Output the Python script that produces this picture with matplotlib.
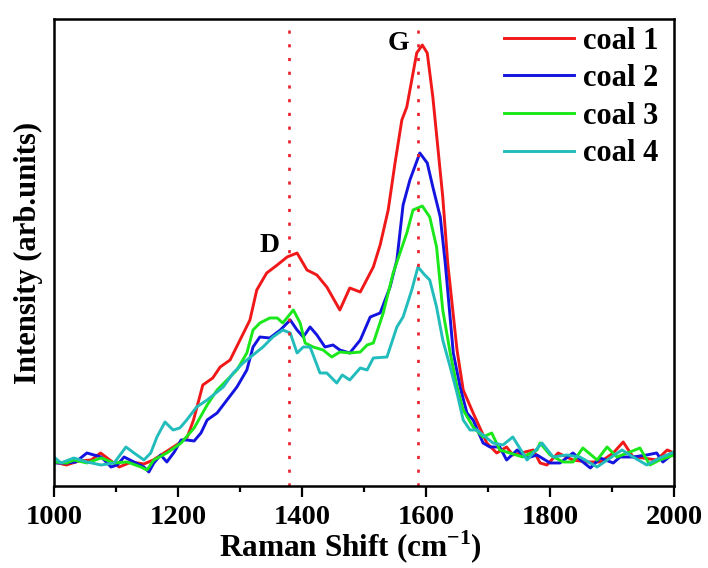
import matplotlib
matplotlib.use("Agg")
import matplotlib.pyplot as plt
from matplotlib.ticker import MultipleLocator

plt.rcParams['font.family'] = ['Liberation Serif', 'DejaVu Serif']
plt.rcParams['font.weight'] = 'bold'
plt.rcParams['mathtext.fontset'] = 'custom'
plt.rcParams['mathtext.bf'] = 'Liberation Serif:bold'
plt.rcParams['mathtext.rm'] = 'Liberation Serif:bold'

# Raman shift (cm-1) / intensity (arb. units)
w1 = [1000,1020,1040,1060,1075,1090,1105,1125,1145,1160,1180,1200,1215,1225,1240,1256,1268,1284,1300,1316,
      1327,1343,1360,1376,1392,1408,1424,1440,1461,1477,1494,1515,1526,1539,1550,1561,1569,1577,1585,1594,
      1602,1611,1619,1627,1635,1650,1660,1676,1698,1714,1730,1740,1773,1784,1795,1813,1837,1860,1881,1902,
      1918,1934,1950,1972,1989,2000]
coal1 = [24,21,25,26,33,26,19,24,22,26,34,42,49,66,101,108,119,126,146,166,
         196,213,221,229,233,216,211,199,176,198,194,219,241,276,323,366,379,406,433,441,
         433,389,339,289,223,136,96,73,43,33,39,31,36,23,21,33,26,24,24,33,
         44,29,28,26,36,33]

w2 = [1000,1020,1035,1053,1076,1092,1102,1113,1129,1145,1153,1161,1172,1182,1194,1205,1214,1226,1237,1247,
      1263,1279,1295,1311,1321,1332,1348,1365,1381,1392,1402,1413,1424,1437,1450,1461,1477,1494,1510,1526,
      1542,1553,1563,1574,1590,1602,1611,1623,1631,1644,1655,1666,1676,1692,1703,1719,1730,1747,1763,1779,
      1800,1816,1837,1853,1865,1881,1902,1913,1934,1956,1972,1982,2000]
coal2 = [23,23,24,33,29,19,21,29,24,19,14,23,31,24,34,46,46,45,53,66,
         73,86,99,116,139,149,148,156,166,156,149,159,151,139,141,136,133,146,169,173,
         199,226,281,306,333,323,299,269,223,133,99,73,66,43,39,39,26,36,28,31,
         23,23,33,24,18,28,23,29,29,31,33,24,33]

w3 = [1000,1020,1032,1053,1076,1097,1118,1140,1150,1161,1182,1205,1226,1247,1263,1279,1295,1311,1321,1332,
      1348,1360,1369,1386,1397,1405,1418,1434,1448,1461,1477,1494,1505,1515,1531,1547,1558,1569,1579,1594,
      1606,1617,1627,1639,1650,1660,1676,1692,1706,1719,1735,1756,1779,1784,1800,1821,1837,1853,1876,1892,
      1908,1929,1945,1961,1977,2000]
coal3 = [24,23,26,23,28,23,24,19,16,26,33,43,58,81,96,106,116,133,156,163,
         168,168,163,176,163,143,139,136,129,134,133,134,141,143,173,213,233,253,276,280,
         269,239,176,133,99,76,59,49,53,36,33,29,36,43,31,24,24,38,26,39,
         29,34,38,21,26,31]

w4 = [1000,1011,1032,1053,1076,1097,1116,1129,1145,1156,1166,1179,1192,1203,1214,1230,1247,1263,1273,1289,
      1305,1321,1337,1353,1369,1381,1392,1402,1413,1421,1429,1440,1456,1465,1477,1494,1505,1515,1537,1553,
      1563,1577,1587,1598,1606,1617,1627,1639,1650,1660,1671,1682,1692,1708,1724,1740,1763,1787,1805,1827,
      1848,1876,1897,1916,1934,1956,1977,2000]
coal4 = [29,23,28,24,21,23,39,33,26,33,49,64,56,58,66,79,86,94,99,113,
         123,131,139,149,156,153,133,139,139,126,113,113,103,111,106,118,116,128,129,159,
         169,196,219,211,206,179,146,119,93,66,56,56,51,43,41,49,26,43,29,31,
         29,19,28,36,29,21,28,34]

d_band = 1379
g_band = 1587

fig = plt.figure(figsize=(7.08, 5.68), dpi=100)
ax = fig.add_axes([0.0763, 0.1444, 0.8757, 0.8221])

ax.plot(w1, coal1, color='#f01818', lw=2.1, label='coal 1')
ax.plot(w2, coal2, color='#1414e0', lw=2.1, label='coal 2')
ax.plot(w3, coal3, color='#1ae81a', lw=2.1, label='coal 3')
ax.plot(w4, coal4, color='#22bcbc', lw=2.1, label='coal 4')

for xv in (d_band, g_band):
    ax.axvline(xv, color='#e8202a', lw=1.9, linestyle=(0, (1.2, 4.0)))

ax.text(1348, 241, 'D', fontsize=20, fontweight='bold', ha='center', va='center')
ax.text(1556, 443, 'G', fontsize=20, fontweight='bold', ha='center', va='center')

ax.set_xlim(1000, 2000)
ax.set_ylim(0, 467)
ax.xaxis.set_major_locator(MultipleLocator(200))
ax.xaxis.set_minor_locator(MultipleLocator(100))
ax.set_yticks([])
ax.tick_params(axis='x', which='major', direction='out', length=8, width=1.6,
               labelsize=20.5, pad=6)
ax.tick_params(axis='x', which='minor', direction='out', length=4, width=1.6)
for lab in ax.get_xticklabels():
    lab.set_fontweight('bold')
for sp in ax.spines.values():
    sp.set_linewidth(1.8)

ax.set_xlabel('Raman Shift (cm$^{\\mathbf{-1}}$)', fontsize=22.5, fontweight='bold', labelpad=0)
ax.xaxis.set_label_coords(0.478, -0.092)
ax.set_ylabel('Intensity (arb.units)', fontsize=22, fontweight='bold', labelpad=8)

ax.legend(loc='upper right', frameon=False, fontsize=22, handlelength=2.3,
          handletextpad=0.3, labelspacing=0.28, borderaxespad=0.0,
          bbox_to_anchor=(0.995, 1.01))

fig.savefig('out.png', dpi=100)
